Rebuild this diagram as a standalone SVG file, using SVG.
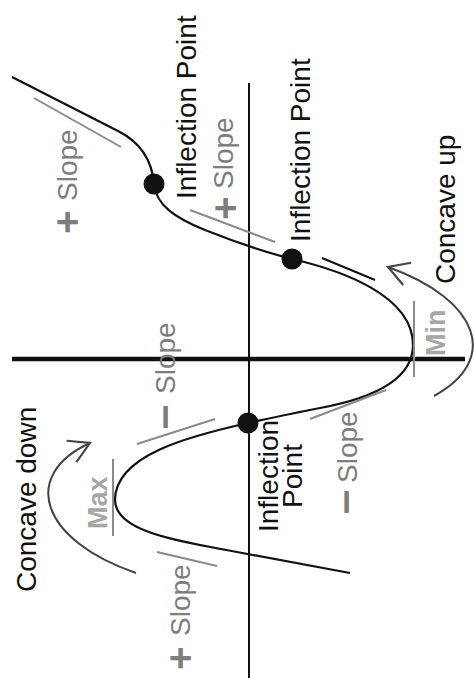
<svg xmlns="http://www.w3.org/2000/svg" width="474" height="678" viewBox="0 0 474 678">
<style>
.t{font-family:"Liberation Sans",Arial,sans-serif;font-size:28px}
.blk{fill:#111}
.gry{fill:#7d7d7d}
.mm{fill:#a6a6a6;font-weight:bold;font-size:27px}
.sym{fill:#7d7d7d;stroke:#7d7d7d;stroke-width:1.6;font-weight:bold;font-size:40px;text-anchor:middle}
.gl{stroke:#8a8a8a;stroke-width:2;fill:none}
.arc{stroke:#444;stroke-width:2;fill:none}
</style>
<defs>
<marker id="ah" markerUnits="userSpaceOnUse" markerWidth="30" markerHeight="30" viewBox="-22 -14 26 28" refX="0" refY="0" orient="auto">
<path d="M-19,-11 L0,0 L-19,11" fill="none" stroke="#444" stroke-width="2"/>
</marker>
</defs>
<rect width="474" height="678" fill="#fff"/>
<g id="axes">
<line x1="249" y1="83" x2="249" y2="678" stroke="#111" stroke-width="2"/>
<line x1="12" y1="359" x2="465" y2="359" stroke="#111" stroke-width="4.5"/>
</g>
<g id="connectors">
<path d="M12,77 L118,131 C140,142 152,160 154,184 C156,205 175,218 205,230 C235,242 265,252 292,259 C340,270 413,295 413,345 C413,372 390,395 320,408 C290,414 270,418 248,423 C190,436 115,455 115,500 C115,530 170,540 237,552 L350,573" fill="none" stroke="#111" stroke-width="2.2"/>
<line class="gl" x1="34" y1="98" x2="121" y2="147"/>
<line class="gl" x1="190" y1="210" x2="275" y2="242"/>
<line x1="322" y1="258" x2="375" y2="280" stroke="#111" stroke-width="2"/>
<line class="gl" x1="310" y1="419" x2="386" y2="390"/>
<line class="gl" x1="414" y1="301" x2="414" y2="377"/>
<line class="gl" x1="137" y1="444" x2="215" y2="419"/>
<line class="gl" x1="113" y1="459" x2="113" y2="536"/>
<line class="gl" x1="157" y1="552" x2="217" y2="566"/>
<path class="arc" d="M136,573 C40,540 20,475 90,443" marker-end="url(#ah)"/>
<path class="arc" d="M434,396 C500,360 480,300 388,267" marker-end="url(#ah)"/>
</g>
<g id="ip1"><circle cx="154" cy="184" r="10.5" fill="#111"/><text class="t blk" transform="translate(196,199) rotate(-90)">Inflection Point</text></g>
<g id="ip2"><circle cx="292" cy="259" r="10.5" fill="#111"/><text class="t blk" transform="translate(310,242) rotate(-90)">Inflection Point</text></g>
<g id="ip3"><circle cx="248" cy="423" r="10.5" fill="#111"/>
<text class="t blk" text-anchor="middle" transform="translate(278,476) rotate(-90)">Inflection</text>
<text class="t blk" text-anchor="middle" transform="translate(302,476) rotate(-90)">Point</text></g>
<g id="slope1"><text class="sym" transform="translate(81,222) rotate(-90)">+</text><text class="t gry" transform="translate(77,201) rotate(-90)">Slope</text></g>
<g id="slope2"><text class="sym" transform="translate(239,208) rotate(-90)">+</text><text class="t gry" transform="translate(233,189) rotate(-90)">Slope</text></g>
<g id="slope3"><text class="sym" transform="translate(175,417) rotate(-90)">–</text><text class="t gry" transform="translate(175,394) rotate(-90)">Slope</text></g>
<g id="slope4"><text class="sym" transform="translate(356,502) rotate(-90)">–</text><text class="t gry" transform="translate(357,483) rotate(-90)">Slope</text></g>
<g id="slope5"><text class="sym" transform="translate(194,658) rotate(-90)">+</text><text class="t gry" transform="translate(190,636) rotate(-90)">Slope</text></g>
<g id="min"><text class="t mm" transform="translate(445,356) rotate(-90)">Min</text></g>
<g id="max"><text class="t mm" transform="translate(107,529) rotate(-90)">Max</text></g>
<g id="cdown"><text class="t blk" transform="translate(36,592) rotate(-90)">Concave down</text></g>
<g id="cup"><text class="t blk" transform="translate(455,284) rotate(-90)">Concave up</text></g>
</svg>
